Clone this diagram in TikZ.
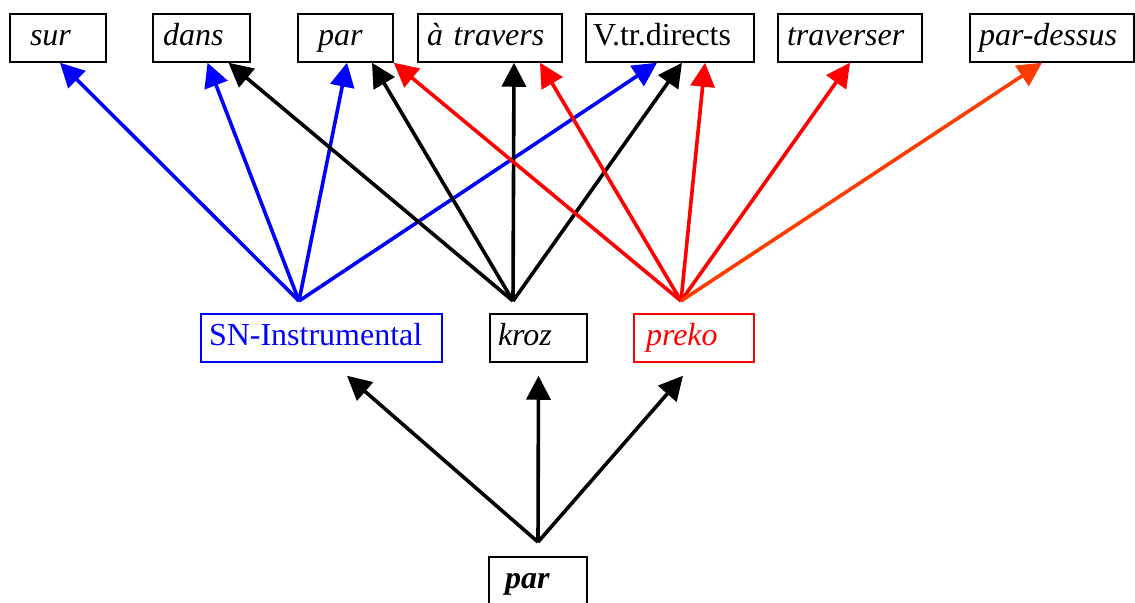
\documentclass[tikz,border=0pt]{standalone}
\usepackage{fontspec}
\setmainfont{Liberation Serif}[ItalicFont={Liberation Serif Italic},BoldFont={Liberation Serif Bold},BoldItalicFont={Liberation Serif Bold Italic}]
\usetikzlibrary{arrows.meta,calc}
\definecolor{orred}{RGB}{255,60,0}

\begin{document}
\begin{tikzpicture}[x=0.5pt,y=-0.5pt,
		every node/.style={font=\fontsize{16}{19}\selectfont},
		wbox/.style={draw,line width=0.75pt,minimum height=24pt,inner ysep=0pt,align=left,text height=11pt,text depth=3.5pt},
		arr/.style={line width=1.8pt,-{Triangle[length=12pt,width=12pt]}}]
		\useasboundingbox (0,0) rectangle (1135,603);
		% top row
		\node [wbox,text width=28pt,inner xsep=10pt] (sur) at (58,38) {\textit{sur}};
		\node [wbox,text width=38.5pt,inner xsep=5pt] (dans) at (201.5,38) {\textit{dans}};
		\node [wbox,text width=27.5pt,inner xsep=10pt] (par) at (345.5,38) {\textit{par}};
		\node [wbox,text width=63pt,inner xsep=4.5pt] (atravers) at (490,38) {\textit{à travers}};
		\node [wbox,text width=77pt,inner xsep=3.5pt] (vtr) at (670,38) {V.tr.directs};
		\node [wbox,text width=63pt,inner xsep=4.5pt] (traverser) at (850,38) {\textit{traverser}};
		\node [wbox,text width=73pt,inner xsep=4.5pt] (pardessus) at (1052,38) {\textit{par-dessus}};
		% middle row
		\node [wbox,blue,text width=112.5pt,inner xsep=4pt] (instr) at (321.5,338) {SN-Instrumental};
		\node [wbox,text width=40.5pt,inner xsep=4pt] (kroz) at (538.5,338) {\textit{kroz}};
		\node [wbox,red,text width=48pt,inner xsep=6pt] (preko) at (694,338) {\textit{preko}};
		% bottom
		\node [wbox,text width=33pt,inner xsep=8pt] (parb) at (538,581) {\textbf{\textit{par}}};
		\coordinate (ci) at (299,301);
		\coordinate (ck) at (513,301);
		\coordinate (cp) at (681,301);
		\coordinate (cb) at (538,542);
		% SN-Instrumental
		\draw [arr,blue] (ci) -- ($(sur.south)+(2,0)$);
		\draw [arr,blue] (ci) -- ($(dans.south)+(6,0)$);
		\draw [arr,blue] (ci) -- ($(par.south)+(1.5,0)$);
		\draw [arr,blue] (ci) -- ($(vtr.south)+(-13,0)$);
		% kroz
		\draw [arr] (ck) -- ($(dans.south)+(27,0)$);
		\draw [arr] (ck) -- ($(par.south)+(26.5,0)$);
		\draw [arr] (ck) -- ($(atravers.south)+(24,0)$);
		\draw [arr] (ck) -- ($(vtr.south)+(12,0)$);
		% preko
		\draw [arr,red] (cp) -- (par.south east);
		\draw [arr,red] (cp) -- ($(atravers.south)+(50,0)$);
		\draw [arr,red] (cp) -- ($(vtr.south)+(35,0)$);
		\draw [arr,red] (cp) -- (traverser.south);
		\draw [arr,orred] (cp) -- ($(pardessus.south)+(-10,0)$);
		% par
		\draw [arr] (cb) -- ($(instr.south)+(25.5,13)$);
		\draw [arr] (cb) -- ($(kroz.south)+(0,13)$);
		\draw [arr] (cb) -- ($(preko.south)+(-11,13)$);
	\end{tikzpicture}
\end{document}
